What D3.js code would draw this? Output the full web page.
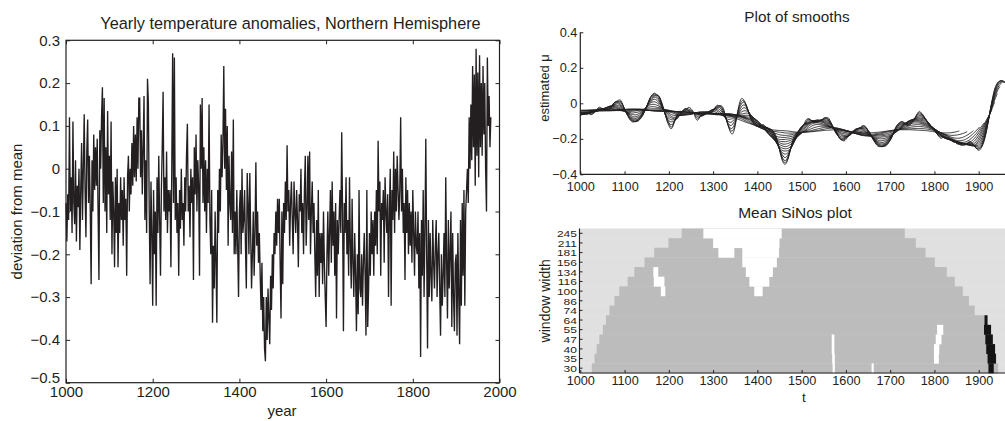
<!DOCTYPE html>
<html>
<head>
<meta charset="utf-8">
<script src="https://cdn.jsdelivr.net/npm/d3@7"></script>
<style>
  body { margin: 0; background: #fff; }
  svg { display: block; font-family: "Liberation Sans", Arial, Helvetica, sans-serif; }
</style>
</head>
<body>
<svg id="chart"></svg>
<script>
// yearly NH temperature anomalies, every 2nd year (1000..1980)
const startYear = 1000
const yearStep = 2
const temps = [
  -0.08, -0.17, -0.06, -0.12, 0.12,   -0.10, -0.02, -0.15, 0.11, -0.08,
  -0.13, 0.02, -0.17, -0.04, -0.09,   0.00, -0.19, -0.05, 0.06, -0.12,
  0.00, 0.127, -0.05, -0.16, 0.04,    0.115, -0.08, 0.03, -0.10, -0.27,
  0.02, -0.10, 0.08, -0.05, 0.05,     -0.04, 0.07, -0.10, -0.26, 0.09,
  0.00, 0.12, 0.19, -0.08, 0.165,     -0.10, 0.05, -0.15, 0.135, -0.06,
  0.03, -0.12, 0.11, -0.20, -0.03,    -0.10, -0.23, -0.02, -0.15, 0.00,
  -0.23, -0.08, -0.15, -0.02, -0.12,  -0.05, -0.18, -0.02, -0.12, -0.07,
  -0.25, -0.02, 0.03, -0.10, 0.00,    -0.06, 0.06, -0.04, 0.10, -0.02,
  0.08, -0.03, 0.12, 0.00, 0.165,     0.165, -0.02, 0.09, -0.06, 0.05,
  0.17, -0.12, 0.02, -0.15, 0.21,     0.155, -0.10, -0.27, -0.03, -0.15,
  -0.32, -0.05, -0.20, -0.10, -0.32,  -0.02, -0.15, 0.03, -0.12, -0.25,
  -0.05, 0.05, 0.18, -0.10, -0.02,    -0.12, 0.04, -0.15, -0.05, -0.10,
  -0.05, -0.23, 0.00, 0.27, -0.08,    0.26, -0.12, -0.02, -0.15, -0.08,
  -0.25, -0.05, -0.14, 0.00, -0.12,   -0.08, -0.18, -0.02, -0.10, 0.03,
  0.105, -0.10, -0.04, -0.16, 0.00,   -0.08, -0.02, -0.26, 0.05, -0.06,
  0.08, -0.10, 0.02, -0.04, -0.25,    0.15, 0.00, 0.165, -0.08, 0.05,
  -0.10, 0.02, -0.15, 0.00, -0.08,    0.15, -0.12, -0.20, -0.05, -0.36,
  -0.18, -0.28, -0.10, -0.22, -0.36,  -0.05, -0.15, 0.00, -0.10, 0.08,
  -0.02, 0.06, 0.24, 0.00, 0.14,      -0.05, 0.10, -0.18, 0.03, -0.08,
  -0.12, 0.04, -0.15, 0.115, -0.20,   -0.10, -0.20, -0.05, -0.18, -0.30,
  -0.10, -0.05, -0.20, 0.00, -0.15,   -0.12, -0.05, -0.18, -0.28, -0.01,
  -0.08, -0.20, -0.01, -0.15, -0.28,  -0.20, -0.10, -0.25, -0.15, 0.015,
  -0.18, -0.10, -0.22, -0.15, -0.25,  -0.33, -0.22, -0.38, -0.30, -0.42,
  -0.45, -0.30, -0.40, -0.28, -0.35,  -0.41, -0.25, -0.33, -0.20, -0.28,
  -0.15, -0.20, -0.10, -0.18, -0.07,  -0.15, -0.07, -0.22, -0.35, -0.10,
  -0.27, -0.08, -0.15, -0.03, -0.12,  0.055, -0.10, -0.05, -0.18, -0.08,
  -0.03, -0.12, -0.20, -0.03, -0.10,  -0.15, -0.05, -0.12, -0.23, -0.06,
  -0.10, 0.00, -0.15, -0.08, -0.20,   -0.05, 0.03, -0.18, -0.10, 0.03,
  -0.12, 0.04, -0.20, -0.10, -0.03,   -0.15, -0.08, -0.20, -0.30, -0.12,
  -0.25, -0.05, -0.30, -0.15, -0.22,  -0.15, -0.27, -0.10, -0.22, -0.30,
  -0.37, -0.20, -0.10, -0.25, -0.15,  -0.05, -0.22, -0.03, -0.18, -0.10,
  -0.25, -0.08, -0.35, -0.12, -0.20,  -0.12, -0.05, -0.15, 0.085, -0.10,
  -0.38, -0.08, -0.15, -0.02, -0.20,  -0.12, -0.25, -0.02, -0.18, -0.28,
  -0.07, -0.22, -0.30, -0.15, -0.25,  -0.38, -0.20, -0.34, -0.05, -0.28,
  -0.30, -0.20, -0.32, -0.22, -0.15,  -0.25, -0.39, -0.05, -0.37, -0.28,
  -0.15, -0.25, -0.10, -0.20, -0.12,  -0.25, -0.10, -0.18, -0.05, -0.20,
  0.065, -0.10, -0.03, -0.25, -0.08,  -0.12, -0.05, -0.22, -0.02, -0.10,
  -0.15, -0.06, -0.30, -0.10, 0.00,   -0.32, -0.05, -0.12, 0.04, -0.15,
  0.00, -0.10, 0.03, -0.05, -0.12,    -0.05, 0.12, -0.10, 0.00, -0.15,
  -0.08, -0.26, -0.02, -0.15, -0.05,  -0.20, -0.08, -0.18, -0.10, -0.22,
  -0.05, -0.15, -0.25, -0.10, -0.18,  -0.20, -0.10, -0.28, -0.15, -0.44,
  -0.12, -0.25, -0.05, -0.30, -0.15,  0.07, -0.20, -0.42, -0.12, -0.30,
  -0.15, -0.25, -0.31, -0.12, -0.22,  -0.28, -0.18, -0.12, -0.30, -0.20,
  -0.15, -0.28, -0.39, -0.20, -0.32,  -0.25, -0.15, -0.30, -0.02, -0.22,
  -0.35, -0.12, -0.28, -0.20, -0.10,  -0.37, -0.15, -0.30, -0.38, -0.22,
  -0.20, -0.39, -0.15, -0.30, -0.41,  -0.12, -0.32, -0.08, -0.25, -0.05,
  -0.32, -0.10, -0.05, 0.00, -0.08,   0.12, 0.00, 0.15, 0.02, 0.24,
  0.05, 0.22, -0.04, 0.28, 0.03,      0.225, -0.02, 0.265, 0.05, 0.20,
  0.03, 0.24, 0.08, 0.20, 0.00,       -0.10, 0.26, 0.10, 0.17, 0.05,
  0.12
]
const years = temps.map((_, i) => startYear + i * yearStep)

const leftYTicks = [-0.5, -0.4, -0.3, -0.2, -0.1, 0, 0.1, 0.2, 0.3]
const leftXTicks = [1000, 1200, 1400, 1600, 1800, 2000]
const rightXTicks = [1000, 1100, 1200, 1300, 1400, 1500, 1600, 1700, 1800, 1900]
const smoothYTicks = [-0.4, -0.2, 0, 0.2, 0.4]

// window widths used for the smooths and the SiNos map rows
const windowWidths = [30, 35, 40, 47, 55, 64, 74, 86, 100, 116, 134, 156, 181, 211, 245]

// SiNos map, per window width: years where the light (outside) zone ends/starts
const sinosFrom = [1026, 1032, 1037, 1043, 1051, 1058, 1066, 1077, 1088, 1107, 1122, 1145, 1167, 1199, 1229]
const sinosTo   = [1944, 1940, 1937, 1930, 1924, 1912, 1891, 1878, 1864, 1846, 1828, 1801, 1780, 1758, 1733]
// white (significant) cells: [window width, from year, to year]
const sinosWhite = [
  [245, 1278, 1455], [211, 1300, 1450], [181, 1312, 1348], [181, 1366, 1449],
  [156, 1366, 1444], [134, 1165, 1176], [134, 1374, 1435], [116, 1166, 1190],
  [116, 1382, 1427], [100, 1182, 1192], [100, 1393, 1412],
  [55, 1806, 1820], [47, 1568, 1574], [47, 1803, 1816], [40, 1568, 1574],
  [40, 1799, 1811], [35, 1569, 1575], [35, 1799, 1810], [30, 1570, 1575],
  [30, 1658, 1663]
]
// black cells: [window width, from year, to year]
const sinosBlack = [
  [64, 1913, 1920], [55, 1912, 1928], [47, 1915, 1932],
  [40, 1917, 1937], [35, 1920, 1939], [30, 1922, 1934]
]

const width = 1005
const height = 421
const ink = '#231f20'
const lightGrey = '#e0e0e0'
const midGrey = '#bcbcbc'

const svg = d3.select('#chart').attr('width', width).attr('height', height)
svg.append('rect').attr('width', width).attr('height', height).attr('fill', '#fff')

const fmt = d => d === 0 ? '0' : d3.format('.1f')(d)
const yearFmt = d3.format('d')

const styleAxis = (g, size) => {
  g.select('.domain').remove()
  g.selectAll('.tick line').attr('stroke', ink)
  g.selectAll('.tick text').attr('fill', ink).attr('font-size', size)
  g.attr('font-family', null)
}

/////////////////// left panel ///////////////////
const L = { x0: 66, x1: 499.5, y0: 40.3, y1: 382.7 }
const xL = d3.scaleLinear().domain([1000, 2000]).range([L.x0, L.x1])
const yL = d3.scaleLinear().domain([-0.5, 0.3]).range([L.y1, L.y0])

svg.append('path')
  .datum(temps)
  .attr('d', d3.line().x((d, i) => xL(years[i])).y(d => yL(d)))
  .attr('fill', 'none')
  .attr('stroke', ink)
  .attr('stroke-width', 1.35)

svg.append('g').attr('transform', `translate(0,${L.y1})`)
  .call(d3.axisBottom(xL).tickValues(leftXTicks).tickSize(-4).tickPadding(3.3).tickFormat(yearFmt))
  .call(g => styleAxis(g, 15))
svg.append('g').attr('transform', `translate(0,${L.y0})`)
  .call(d3.axisTop(xL).tickValues(leftXTicks).tickSize(-4).tickFormat(''))
  .call(g => styleAxis(g, 15))
svg.append('g').attr('transform', `translate(${L.x0},0)`)
  .call(d3.axisLeft(yL).tickValues(leftYTicks).tickSize(-4).tickPadding(6).tickFormat(fmt))
  .call(g => styleAxis(g, 15))
  // bottom label sits just above the first year label
  .call(g => g.selectAll('.tick text').filter(d => d === -0.5).attr('dy', '-0.02em'))
svg.append('g').attr('transform', `translate(${L.x1},0)`)
  .call(d3.axisRight(yL).tickValues(leftYTicks).tickSize(-4).tickFormat(''))
  .call(g => styleAxis(g, 15))

svg.append('rect')
  .attr('x', L.x0).attr('y', L.y0)
  .attr('width', L.x1 - L.x0).attr('height', L.y1 - L.y0)
  .attr('fill', 'none').attr('stroke', ink).attr('stroke-width', 1.2)

svg.append('text').attr('x', 290.5).attr('y', 28.5).attr('text-anchor', 'middle')
  .attr('font-size', 16.3).attr('fill', ink)
  .text('Yearly temperature anomalies, Northern Hemisphere')
svg.append('text').attr('x', 282).attr('y', 416).attr('text-anchor', 'middle')
  .attr('font-size', 15).attr('fill', ink).text('year')
svg.append('text').attr('transform', `translate(22,${(L.y0 + L.y1) / 2}) rotate(-90)`)
  .attr('text-anchor', 'middle').attr('font-size', 15).attr('fill', ink)
  .text('deviation from mean')

/////////////////// plot of smooths ///////////////////
const R = { x0: 580.3, x1: 1014.1 }
const xR = d3.scaleLinear().domain([1000, 1980]).range([R.x0, R.x1])
const S = { y0: 32.3, y1: 174.3 }
const yS = d3.scaleLinear().domain([-0.4, 0.4]).range([S.y1, S.y0])

// each smooth: weighted window mean of the series, window width w
const lastYear = years[years.length - 1]
const smooths = windowWidths.map(w => {
  const h = w / 2
  const pts = []
  years.forEach(t => {
    if (t + h > lastYear) return
    let sw = 0, sv = 0
    years.forEach((s, j) => {
      const u = (s - t) / h
      if (Math.abs(u) < 1) { const k = 1 - u * u; sw += k; sv += k * temps[j] }
    })
    pts.push([t, sv / sw])
  })
  return pts
})

svg.append('g').selectAll('path')
  .data(smooths)
  .join('path')
  .attr('d', d3.line().x(d => xR(d[0])).y(d => yS(d[1])).curve(d3.curveBasis))
  .attr('fill', 'none')
  .attr('stroke', ink)
  .attr('stroke-width', 0.9)

svg.append('g').attr('transform', `translate(0,${S.y1})`)
  .call(d3.axisBottom(xR).tickValues(rightXTicks).tickSize(-3).tickPadding(8).tickFormat(yearFmt))
  .call(g => styleAxis(g, 12.7))
svg.append('g').attr('transform', `translate(${R.x0},0)`)
  .call(d3.axisLeft(yS).tickValues(smoothYTicks).tickSize(-3).tickPadding(3).tickFormat(fmt))
  .call(g => styleAxis(g, 12.7))
svg.append('line').attr('x1', R.x0).attr('x2', R.x0).attr('y1', S.y0).attr('y2', S.y1)
  .attr('stroke', ink).attr('stroke-width', 1.2)
svg.append('line').attr('x1', R.x0).attr('x2', R.x1).attr('y1', S.y1).attr('y2', S.y1)
  .attr('stroke', ink).attr('stroke-width', 1.2)

svg.append('text').attr('x', 797).attr('y', 21.5).attr('text-anchor', 'middle')
  .attr('font-size', 15.3).attr('fill', ink).text('Plot of smooths')
svg.append('text').attr('transform', `translate(549,88) rotate(-90)`)
  .attr('text-anchor', 'middle').attr('font-size', 13).attr('fill', ink)
  .text('estimated μ')

/////////////////// mean SiNos plot ///////////////////
const B = { y0: 228.5, y1: 373 }
const yB = d3.scaleBand().domain(windowWidths.slice().reverse()).range([B.y0, B.y1])
const cell = (g, rows, colour) => g.selectAll(null)
  .data(rows)
  .join('rect')
  .attr('x', d => xR(d[1]))
  .attr('width', d => xR(d[2]) - xR(d[1]))
  .attr('y', d => yB(d[0]))
  .attr('height', yB.bandwidth() + 0.3)
  .attr('fill', colour)

const mapG = svg.append('g')
cell(mapG, windowWidths.map(w => [w, 1000, 1980]), lightGrey)
cell(mapG, windowWidths.map((w, i) => [w, sinosFrom[i], sinosTo[i]]), midGrey)
cell(mapG, sinosWhite, '#ffffff')
cell(mapG, sinosBlack, '#141414')

svg.append('g').attr('transform', `translate(0,${B.y1})`)
  .call(d3.axisBottom(xR).tickValues(rightXTicks).tickSize(-3).tickPadding(3).tickFormat(yearFmt))
  .call(g => styleAxis(g, 12.7))
// window-width axis: ticks from the band scale, labels set tight to fit the rows
svg.append('g').attr('transform', `translate(${R.x0 - 0.8},0)`)
  .call(d3.axisLeft(yB).tickSize(-3).tickPadding(2.5))
  .call(g => styleAxis(g, 8.3))
  .call(g => g.selectAll('.tick text')
    .attr('x', null).attr('dy', null)
    .attr('dominant-baseline', 'central')
    .attr('transform', 'translate(-2.5,0.3) scale(1.45,1.12)'))
svg.append('line').attr('x1', R.x0 - 0.8).attr('x2', R.x0 - 0.8).attr('y1', B.y0).attr('y2', B.y1)
  .attr('stroke', ink).attr('stroke-width', 1.2)
svg.append('line').attr('x1', R.x0 - 0.8).attr('x2', R.x1).attr('y1', B.y1).attr('y2', B.y1)
  .attr('stroke', ink).attr('stroke-width', 1.2)

svg.append('text').attr('x', 795).attr('y', 217.7).attr('text-anchor', 'middle')
  .attr('font-size', 15.5).attr('fill', ink).text('Mean SiNos plot')
svg.append('text').attr('x', 804).attr('y', 401.5).attr('text-anchor', 'middle')
  .attr('font-size', 13.5).attr('fill', ink).text('t')
svg.append('text').attr('transform', `translate(550,${(B.y0 + B.y1) / 2}) rotate(-90)`)
  .attr('text-anchor', 'middle').attr('font-size', 14).attr('fill', ink)
  .text('window width')
</script>
</body>
</html>
